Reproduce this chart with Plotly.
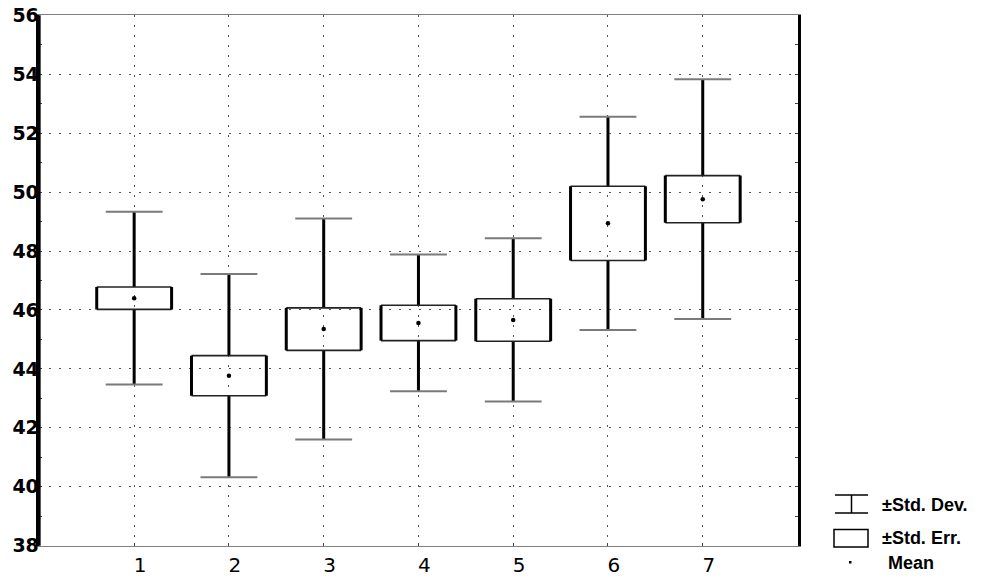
import numpy as np
import plotly.graph_objects as go

# ---------------- data ----------------
categories = [1, 2, 3, 4, 5, 6, 7]
means = [46.40, 43.77, 45.35, 45.56, 45.66, 48.94, 49.76]
std_err = [0.38, 0.68, 0.72, 0.60, 0.72, 1.26, 0.80]
std_dev = [2.93, 3.45, 3.75, 2.32, 2.77, 3.62, 4.07]
y_ticks = [38, 40, 42, 44, 46, 48, 50, 52, 54, 56]
legend_labels = ["±Std. Dev.", "±Std. Err.", "Mean"]

W, H = 986, 579
BOX_W = 0.79
CAP_W = 0.60

x = np.array(categories, dtype=float)
m = np.array(means)
se = np.array(std_err)
sd = np.array(std_dev)


def segs(x0s, y0s, x1s, y1s):
    xs, ys = [], []
    for a, b, c, d in zip(x0s, y0s, x1s, y1s):
        xs += [a, c, None]
        ys += [b, d, None]
    return xs, ys


fig = go.Figure()

# whiskers (outside the box)
wx1, wy1 = segs(x, m + se, x, m + sd)
wx2, wy2 = segs(x, m - sd, x, m - se)
fig.add_trace(go.Scatter(x=wx1 + wx2, y=wy1 + wy2, mode="lines",
                         line=dict(color="#000000", width=3),
                         hoverinfo="skip", showlegend=False))
# caps
cx1, cy1 = segs(x - CAP_W / 2, m + sd, x + CAP_W / 2, m + sd)
cx2, cy2 = segs(x - CAP_W / 2, m - sd, x + CAP_W / 2, m - sd)
fig.add_trace(go.Scatter(x=cx1 + cx2, y=cy1 + cy2, mode="lines",
                         line=dict(color="#7a7a7a", width=2),
                         hoverinfo="skip", showlegend=False))
# box top / bottom
bx1, by1 = segs(x - BOX_W / 2, m + se, x + BOX_W / 2, m + se)
bx2, by2 = segs(x - BOX_W / 2, m - se, x + BOX_W / 2, m - se)
fig.add_trace(go.Scatter(x=bx1 + bx2, y=by1 + by2, mode="lines",
                         line=dict(color="#222222", width=1.6),
                         hoverinfo="skip", showlegend=False))
# box sides
sx1, sy1 = segs(x - BOX_W / 2, m - se, x - BOX_W / 2, m + se)
sx2, sy2 = segs(x + BOX_W / 2, m - se, x + BOX_W / 2, m + se)
fig.add_trace(go.Scatter(x=sx1 + sx2, y=sy1 + sy2, mode="lines",
                         line=dict(color="#000000", width=3),
                         hoverinfo="skip", showlegend=False))
# means
fig.add_trace(go.Scatter(x=x, y=m, mode="markers",
                         marker=dict(color="#000000", size=4.5, symbol="circle"),
                         showlegend=False))

# plot area in pixels
L, R, T, B = 39.4, 797.5, 15.3, 545.7

grid_dash = "2px,8px"
fig.update_xaxes(
    domain=[L / W, R / W], range=[0, 8],
    tickvals=categories, ticktext=[str(c) for c in categories],
    tickfont=dict(family="DejaVu Sans", size=20, color="#000000"),
    ticklabelshift=6, ticklabelstandoff=1,
    ticks="inside", ticklen=3, tickcolor="#444444",
    showgrid=True, gridcolor="#555555", gridwidth=1, griddash=grid_dash,
    showline=True, linecolor="#808080", linewidth=1, mirror=True,
    zeroline=False, automargin=False,
)
fig.update_yaxes(
    domain=[1 - B / H, 1 - T / H], range=[38, 56],
    tickvals=y_ticks, ticktext=[str(v) for v in y_ticks],
    tickfont=dict(family="DejaVu Sans", size=19, color="#000000", weight="bold"),
    ticklabelstandoff=-6,
    ticks="inside", ticklen=3, tickcolor="#444444",
    minor=dict(ticks="inside", ticklen=3, dtick=1, tick0=38, tickcolor="#444444", showgrid=False),
    showgrid=True, gridcolor="#555555", gridwidth=1, griddash=grid_dash,
    showline=True, linecolor="#000000", linewidth=2.5, mirror="ticks",
    zeroline=False, automargin=False,
)

# ---------------- legend (drawn in figure pixel coordinates) ----------------
def px(xp):
    return xp / W


def py(yp):
    return 1 - yp / H


shapes = []
line_k = dict(color="#000000", width=1.5)
# whisker icon
shapes += [
    dict(type="line", xref="paper", yref="paper", x0=px(835), x1=px(868), y0=py(495), y1=py(495), line=line_k),
    dict(type="line", xref="paper", yref="paper", x0=px(835), x1=px(868), y0=py(513), y1=py(513), line=line_k),
    dict(type="line", xref="paper", yref="paper", x0=px(851.5), x1=px(851.5), y0=py(495), y1=py(513), line=line_k),
]
# box icon
shapes.append(dict(type="rect", xref="paper", yref="paper", x0=px(834), x1=px(868),
                   y0=py(529.5), y1=py(547), line=line_k, fillcolor="rgba(0,0,0,0)"))
# mean dot
shapes.append(dict(type="rect", xref="paper", yref="paper", x0=px(849), x1=px(851.5),
                   y0=py(561), y1=py(563.5), line=dict(width=0), fillcolor="#000000"))
# left axis line reinforcement (in data coordinates of the axes range)
shapes.append(dict(type="line", xref="x domain", yref="y domain", x0=0, x1=0, y0=0, y1=1,
                   line=dict(color="#000000", width=2.5), layer="above"))

annotations = []
for label, xp, yp in zip(legend_labels, [880, 880, 886], [505, 538, 563]):
    annotations.append(dict(text=label, xref="paper", yref="paper", x=px(xp), y=py(yp),
                            xanchor="left", yanchor="middle", showarrow=False,
                            font=dict(family="Liberation Sans", size=18, color="#000000",
                                      weight="bold")))

fig.update_layout(
    width=W, height=H,
    margin=dict(l=0, r=0, t=0, b=0),
    paper_bgcolor="#ffffff", plot_bgcolor="#ffffff",
    shapes=shapes, annotations=annotations,
    showlegend=False,
)

fig.write_html("out.html")
